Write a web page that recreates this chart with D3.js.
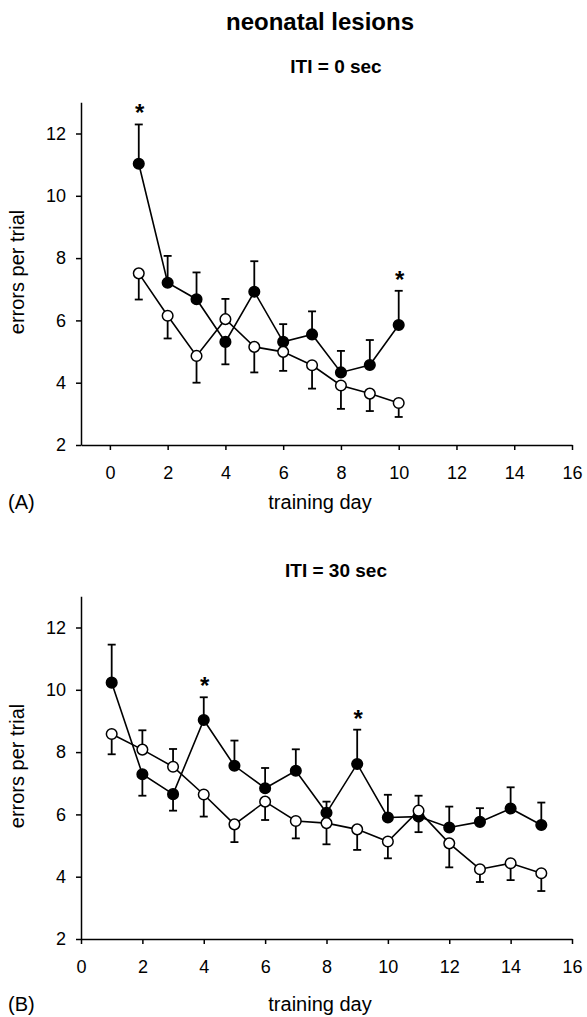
<!DOCTYPE html>
<html>
<head>
<meta charset="utf-8">
<script src="https://cdn.jsdelivr.net/npm/d3@7"></script>
<style>
  body { margin: 0; background: #fff; }
  text { font-family: "Liberation Sans", Arial, sans-serif; fill: #000; }
</style>
</head>
<body>
<div class="chart"></div>
<script>
// data
var daysA = [1, 2, 3, 4, 5, 6, 7, 8, 9, 10];
var lesionA = [11.03, 7.21, 6.68, 5.31, 6.92, 5.31, 5.55, 4.33, 4.57, 5.85];
var lesionErrA = [12.29, 8.07, 7.54, 4.59, 7.90, 5.88, 6.29, 5.02, 5.37, 6.95];
var controlA = [7.51, 6.15, 4.86, 6.04, 5.15, 4.99, 4.56, 3.91, 3.65, 3.35];
var controlErrA = [6.67, 5.42, 4.00, 6.69, 4.33, 4.38, 3.81, 3.16, 3.09, 2.90];
var starsA = [1, 10];

var daysB = [1, 2, 3, 4, 5, 6, 7, 8, 9, 10, 11, 12, 13, 14, 15];
var lesionB = [10.23, 7.29, 6.65, 9.03, 7.56, 6.84, 7.40, 6.05, 7.62, 5.90, 5.93, 5.58, 5.76, 6.19, 5.66];
var lesionErrB = [11.45, 6.60, 6.12, 9.76, 8.37, 7.49, 8.09, 6.41, 8.72, 6.63, 5.43, 6.25, 6.20, 6.87, 6.38];
var controlB = [8.58, 8.08, 7.53, 6.64, 5.68, 6.41, 5.79, 5.72, 5.52, 5.13, 6.12, 5.07, 4.24, 4.43, 4.11];
var controlErrB = [7.93, 8.70, 8.10, 5.93, 5.11, 5.82, 5.23, 5.04, 4.86, 4.59, 6.60, 4.30, 3.83, 3.89, 3.54];
var starsB = [4, 9];

var xTicks = [0, 2, 4, 6, 8, 10, 12, 14, 16];
var yTicks = [2, 4, 6, 8, 10, 12];

var svgWidth = 587;
var svgHeight = 1017;

var svg = d3.select(".chart")
    .append("svg")
    .attr("width", svgWidth)
    .attr("height", svgHeight);

svg.append("text")
    .attr("x", 320)
    .attr("y", 30)
    .attr("text-anchor", "middle")
    .style("font-size", "24px")
    .style("font-weight", "bold")
    .text("neonatal lesions");

// draws one panel
function drawPanel(p) {
    var x = d3.scaleLinear().domain(p.xDomain).range([81, 572]);
    var y = d3.scaleLinear().domain([2, 13]).range([p.bottom, p.bottom - 11 * 31.15]);

    var g = svg.append("g");

    g.append("text")
        .attr("x", 336)
        .attr("y", p.titleY)
        .attr("text-anchor", "middle")
        .style("font-size", "19px")
        .style("font-weight", "bold")
        .text(p.title);

    var xAxis = g.append("g")
        .attr("transform", `translate(0, ${p.bottom})`)
        .call(d3.axisBottom(x).tickValues(xTicks).tickSize(5).tickSizeOuter(0).tickPadding(16));

    var yAxis = g.append("g")
        .attr("transform", "translate(81, 0)")
        .call(d3.axisLeft(y).tickValues(yTicks).tickSize(5).tickSizeOuter(0).tickPadding(10));

    [xAxis, yAxis].forEach(function(a) {
        a.selectAll("path, line").attr("stroke", "#000").attr("stroke-width", 1.5);
        a.selectAll("text").style("font-size", "18px").style("font-family", "Liberation Sans, Arial, sans-serif");
    });

    g.append("text")
        .attr("transform", `translate(24, ${p.bottom - 173}) rotate(-90)`)
        .attr("text-anchor", "middle")
        .style("font-size", "20px")
        .text("errors per trial");

    g.append("text")
        .attr("x", 320)
        .attr("y", p.labelY)
        .attr("text-anchor", "middle")
        .style("font-size", "20px")
        .text("training day");

    g.append("text")
        .attr("x", 8)
        .attr("y", p.labelY)
        .style("font-size", "20px")
        .text(p.tag);

    var series = [
        { vals: p.control, errs: p.controlErr, fill: "#fff" },
        { vals: p.lesion, errs: p.lesionErr, fill: "#000" }
    ];

    // error bars
    series.forEach(function(s) {
        p.days.forEach(function(d, i) {
            var cx = x(d);
            g.append("line")
                .attr("x1", cx).attr("x2", cx)
                .attr("y1", y(s.vals[i])).attr("y2", y(s.errs[i]))
                .attr("stroke", "#000").attr("stroke-width", 1.8);
            g.append("line")
                .attr("x1", cx - 4).attr("x2", cx + 4)
                .attr("y1", y(s.errs[i])).attr("y2", y(s.errs[i]))
                .attr("stroke", "#000").attr("stroke-width", 1.8);
        });
    });

    var line = d3.line()
        .x(function(d) { return x(d[0]); })
        .y(function(d) { return y(d[1]); });

    series.forEach(function(s) {
        g.append("path")
            .datum(p.days.map(function(d, i) { return [d, s.vals[i]]; }))
            .attr("d", line)
            .attr("fill", "none")
            .attr("stroke", "#000")
            .attr("stroke-width", 1.6);
    });

    // lesion first, control on top
    [series[1], series[0]].forEach(function(s) {
        g.selectAll(null)
            .data(p.days)
            .enter()
            .append("circle")
            .attr("cx", function(d) { return x(d); })
            .attr("cy", function(d, i) { return y(s.vals[i]); })
            .attr("r", 5.3)
            .attr("fill", s.fill)
            .attr("stroke", "#000")
            .attr("stroke-width", 1.5);
    });

    p.stars.forEach(function(d) {
        var i = p.days.indexOf(d);
        g.append("text")
            .attr("x", x(d) + 1)
            .attr("y", y(p.lesionErr[i]) - 3)
            .attr("text-anchor", "middle")
            .style("font-size", "24px")
            .style("font-weight", "bold")
            .text("*");
    });
}

drawPanel({
    title: "ITI = 0 sec", titleY: 73, tag: "(A)", labelY: 509,
    bottom: 445, xDomain: [-1, 16],
    days: daysA, lesion: lesionA, lesionErr: lesionErrA,
    control: controlA, controlErr: controlErrA, stars: starsA
});

drawPanel({
    title: "ITI = 30 sec", titleY: 577, tag: "(B)", labelY: 1011,
    bottom: 939, xDomain: [0, 16],
    days: daysB, lesion: lesionB, lesionErr: lesionErrB,
    control: controlB, controlErr: controlErrB, stars: starsB
});
</script>
</body>
</html>
